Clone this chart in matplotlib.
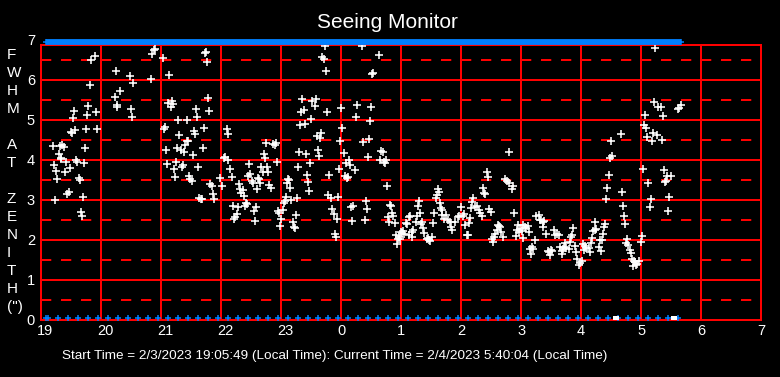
import matplotlib
matplotlib.use('Agg')
import matplotlib.pyplot as plt
from matplotlib.transforms import blended_transform_factory, offset_copy

plt.rcParams['font.family'] = ['Liberation Sans', 'DejaVu Sans']
plt.rcParams['lines.scale_dashes'] = False

# ---------------- data ----------------
title = "Seeing Monitor"
start_label = "2/3/2023 19:05:49"
current_label = "2/4/2023 5:40:04"
start_time = "19:05:49"
current_time = "5:40:04"
ylabel_letters = ["F", "W", "H", "M", "", "A", "T", "", "Z", "E", "N", "I", "T", "H", "(\")"]
x_tick_minutes = [0, 60, 120, 180, 240, 300, 360, 420, 480, 540, 600, 660, 720]
x_tick_labels = ["19", "20", "21", "22", "23", "0", "1", "2", "3", "4", "5", "6", "7"]
y_tick_values = [0, 1, 2, 3, 4, 5, 6, 7]

# minutes after 19:00 local time, FWHM at zenith (arcsec)
minutes = [
    113, 114, 111, 122, 54, 50, 75, 89, 110, 128, 92, 49, 79, 74, 76.5, 76, 90, 91, 47, 33,
    55, 46, 32, 30, 31, 34, 45, 56, 12, 19, 21.5, 23, 44, 18, 20.5, 20, 25, 35, 36, 43,
    13, 29, 15, 24, 38, 39, 16, 28, 26, 42, 14, 40, 41,
    164, 165, 166, 127, 131, 132, 130, 167, 155, 168, 156, 137, 146, 124, 123, 153, 154, 163, 138, 146,
    147, 144, 136, 140, 143, 125, 162, 152, 126, 135, 142, 141, 133, 157, 134, 148, 149, 151, 169, 158,
    160, 161,
    284, 321, 281, 283, 285, 331, 332, 261, 271, 275, 274, 263, 260, 286, 300, 316, 330, 315, 270, 259,
    264, 329, 301, 186, 187, 280, 276, 279, 299, 322, 328, 225, 232, 234, 235, 258, 265, 277, 278, 303,
    327, 223, 224, 184, 183, 187, 208, 236, 269, 257, 298, 305, 308, 309, 314, 189, 220, 226, 222, 227,
    179, 191, 207, 209, 217, 218, 211, 212, 219, 247, 248, 246, 266, 288, 304, 306, 307, 267, 181, 171,
    198, 199, 202, 200, 203, 216, 228, 230, 249, 172, 173, 245, 244, 243, 250, 256, 268, 287, 290, 297,
    325, 326, 310, 312, 192, 197, 204, 205, 206, 215, 213, 291, 293, 296, 311, 324, 255, 237, 238, 242,
    196, 194, 193, 214, 240, 252, 239, 253, 254, 294, 295,
    338, 340, 342, 339, 343, 345, 344, 468, 346, 446, 447, 464, 466, 468, 472, 471, 442, 443, 444, 397,
    398, 396, 395, 378, 377, 399, 400, 401, 432, 431, 420, 349, 350, 351, 352, 347, 354, 348, 368, 369,
    379, 376, 365, 366, 375, 381, 380, 392, 393, 401, 405, 403, 407, 409, 414, 410, 411, 417, 418, 423,
    422, 429, 428, 424, 430, 434, 436, 438, 439, 441, 448, 450, 473, 382, 383, 372, 371, 368, 371, 362,
    361, 360, 363, 358, 355, 357, 356, 359, 387, 388, 389, 391, 386, 426, 427, 457, 458, 459, 456, 460,
    454, 453, 462, 451, 452, 475, 477, 476, 478, 479, 481, 482, 484, 485, 488, 487, 482, 494, 491, 492,
    489, 490, 495, 498, 499,
    614, 613, 617, 620, 622, 604, 638, 637, 640, 603, 605, 606, 612, 616, 621, 611, 580, 570, 571, 569,
    602, 623, 626, 630, 607, 624, 625, 568, 566, 581, 565, 610, 628, 609, 627, 582, 583, 584, 554, 563,
    564, 562, 552, 554, 555, 551, 550, 559, 561, 558, 560, 532, 531, 530, 529, 534, 535, 513, 514, 516,
    518, 505, 524, 523, 522, 525, 528, 519, 521, 521, 510, 511, 508, 509, 507, 542, 544, 545, 543, 548,
    549, 536, 541, 539, 538, 586, 585, 587, 589, 590, 601, 600, 591, 593, 592, 594, 596, 598, 595, 500,
    502, 503, 502,
]
fwhm = [
    6.75, 6.77, 6.64, 6.54, 6.60, 6.49, 6.22, 6.10, 6.03, 6.13, 5.92, 5.87, 5.72, 5.57, 5.37, 5.32, 5.27, 5.07, 5.34, 5.22,
    5.20, 5.12, 5.04, 4.69, 4.67, 4.74, 4.77, 4.77, 4.34, 4.35, 4.38, 4.32, 4.29, 4.15, 4.05, 4.03, 3.94, 4.00, 3.94, 3.92,
    3.87, 3.79, 3.72, 3.69, 3.55, 3.50, 3.52, 3.19, 3.14, 3.07, 2.99, 2.69, 2.59,
    6.68, 6.70, 6.44, 5.43, 5.47, 5.39, 5.32, 5.54, 5.27, 5.22, 5.07, 4.99, 4.99, 4.82, 4.77, 4.73, 4.64, 4.79, 4.62, 4.48,
    4.47, 4.37, 4.29, 4.24, 4.19, 4.24, 4.29, 4.12, 3.89, 3.94, 3.87, 3.82, 3.77, 3.82, 3.57, 3.59, 3.52, 3.47, 3.39, 3.04,
    3.02, 3.02,
    6.86, 6.84, 6.58, 6.52, 6.22, 6.16, 6.17, 5.52, 5.47, 5.52, 5.34, 5.24, 5.19, 5.19, 5.29, 5.37, 5.32, 5.07, 5.02, 4.87,
    4.89, 4.97, 4.79, 4.77, 4.64, 4.67, 4.59, 4.54, 4.47, 4.44, 4.52, 4.42, 4.39, 4.37, 4.42, 4.19, 4.14, 4.24, 4.09, 4.17,
    4.07, 4.14, 4.04, 4.07, 4.04, 3.99, 3.89, 3.94, 3.92, 3.82, 3.77, 3.92, 3.99, 3.87, 3.74, 3.77, 3.82, 3.82, 3.69, 3.69,
    3.54, 3.57, 3.59, 3.64, 3.54, 3.52, 3.47, 3.42, 3.42, 3.52, 3.49, 3.42, 3.62, 3.62, 3.59, 3.54, 3.57, 3.44, 3.34, 3.34,
    3.39, 3.27, 3.24, 3.17, 3.09, 3.27, 3.37, 3.29, 3.29, 3.14, 3.02, 3.07, 2.97, 2.92, 2.99, 3.04, 3.22, 3.12, 3.04, 3.07,
    2.97, 2.77, 2.82, 2.84, 2.84, 2.82, 2.84, 2.92, 2.89, 2.82, 2.72, 2.77, 2.64, 2.52, 2.47, 2.49, 2.62, 2.72, 2.67, 2.74,
    2.64, 2.57, 2.52, 2.47, 2.52, 2.44, 2.34, 2.32, 2.29, 2.14, 2.07,
    6.62, 4.22, 4.19, 3.99, 3.94, 3.99, 3.92, 4.19, 3.34, 3.69, 3.57, 3.52, 3.47, 3.42, 3.34, 3.27, 3.29, 3.17, 3.14, 3.27,
    3.19, 3.12, 3.04, 2.97, 2.84, 2.92, 2.79, 2.74, 3.04, 2.94, 2.82, 2.87, 2.84, 2.67, 2.59, 2.57, 2.42, 2.44, 2.57, 2.59,
    2.67, 2.59, 2.42, 2.39, 2.44, 2.44, 2.39, 2.42, 2.67, 2.62, 2.62, 2.52, 2.49, 2.44, 2.44, 2.32, 2.24, 2.57, 2.59, 2.64,
    2.59, 2.54, 2.42, 2.37, 2.79, 2.82, 2.84, 2.74, 2.67, 2.59, 2.77, 2.69, 2.67, 2.29, 2.17, 2.24, 2.19, 2.12, 2.07, 2.22,
    2.17, 2.19, 2.14, 2.07, 2.12, 2.02, 1.89, 2.02, 2.04, 1.99, 1.97, 2.07, 2.02, 2.12, 2.12, 2.37, 2.34, 2.32, 2.24, 2.19,
    2.14, 2.07, 2.07, 2.02, 1.94, 2.09, 2.37, 2.24, 2.19, 2.27, 2.22, 2.37, 2.32, 2.29, 2.19, 2.34, 2.04, 1.99, 1.82, 1.77,
    1.77, 1.64, 2.59, 2.62, 2.49,
    6.79, 5.44, 5.32, 5.32, 5.09, 5.12, 5.29, 5.27, 5.37, 4.87, 4.79, 4.57, 4.67, 4.62, 4.49, 4.47, 4.64, 4.47, 4.09, 4.04,
    3.77, 3.74, 3.59, 3.59, 3.42, 3.44, 3.47, 3.62, 3.29, 3.19, 3.02, 3.02, 3.07, 2.82, 2.72, 2.84, 2.59, 2.39, 2.44, 2.32,
    2.39, 2.14, 2.22, 2.24, 2.27, 2.04, 1.92, 1.99, 1.99, 1.82, 1.72, 2.29, 2.12, 2.07, 1.94, 1.84, 1.69, 2.24, 2.12, 2.14,
    2.12, 2.14, 1.92, 1.82, 1.77, 1.79, 1.77, 1.82, 1.72, 1.64, 1.74, 1.72, 1.69, 1.62, 1.72, 1.89, 1.84, 1.79, 1.74, 1.79,
    1.69, 1.52, 1.47, 1.42, 1.37, 2.02, 1.92, 1.87, 1.74, 1.67, 2.09, 1.94, 1.52, 1.47, 1.34, 1.44, 1.39, 1.47, 1.37, 2.49,
    2.44, 2.47, 2.32,
]
# blue marks along the bottom (minutes after 19:00)
bottom_minutes = [5, 7, 17, 27, 37, 47, 57, 67, 77, 87, 97, 107, 117, 127, 137, 147, 157, 167, 177, 187,
                  197, 207, 217, 227, 237, 247, 257, 267, 277, 287, 297, 307, 317, 327, 337, 347, 357, 367,
                  377, 387, 397, 407, 417, 427, 437, 447, 457, 467, 477, 487, 497, 507, 517, 527, 537, 547,
                  557, 567, 577, 587, 597, 607, 617, 627, 637]
# white marks at zero
zero_minutes = [574, 576, 632, 634]


def to_minutes(hms):
    h, m, s = [int(v) for v in hms.split(":")]
    if h < 12:
        h += 24
    return (h - 19) * 60 + m + s / 60.0


start_min = to_minutes(start_time)
cur_min = to_minutes(current_time)

RED = '#ff0000'
BLUE = '#0080ff'
LW = 1.44

fig = plt.figure(figsize=(7.8, 3.77), dpi=100, facecolor='black')
ax = fig.add_axes([40.5 / 780, 57 / 377, 720 / 780, 275 / 377])
ax.set_facecolor('black')
ax.set_xlim(0, 720)
ax.set_ylim(0, 6.875)
ax.set_xticks([])
ax.set_yticks([])
for s in ax.spines.values():
    s.set_color(RED)
    s.set_linewidth(LW)

for v in range(1, 7):
    ax.axhline(v, color=RED, lw=LW, zorder=1)
for v in [0.5, 1.5, 2.5, 3.5, 4.5, 5.5, 6.5]:
    ax.axhline(v, color=RED, lw=LW, linestyle=(0, (7.4, 7.0)), zorder=1)
for xm in x_tick_minutes[1:-1]:
    ax.axvline(xm, color=RED, lw=LW, zorder=1)

ax.plot(minutes, fwhm, ls='none', marker='+', color='white', ms=5.5, mew=1.15, zorder=3)

# top band
ax.plot([start_min, cur_min], [6.94, 6.94], color=BLUE, lw=4.2, solid_capstyle='butt',
        clip_on=False, zorder=4)
ax.plot([start_min, cur_min], [6.94, 6.94], ls='none', marker='+', color=BLUE, ms=4.5, mew=1.1,
        clip_on=False, zorder=4)
# bottom marks
ax.plot(bottom_minutes, [0.06] * len(bottom_minutes), ls='none', marker='+', color=BLUE,
        ms=4.5, mew=1.1, clip_on=False, zorder=4)
ax.plot(zero_minutes, [0.05] * len(zero_minutes), ls='none', marker='s', color='white',
        ms=3.0, mew=0, clip_on=False, zorder=5)

# tick labels
ty = blended_transform_factory(ax.transAxes, ax.transData)
for v in y_tick_values:
    ax.text(0, v, str(v), transform=offset_copy(ty, fig, x=-5.5, y=-4.7, units='dots'),
            ha='right', va='baseline', color='white', fontsize=10.5, clip_on=False)
tx = blended_transform_factory(ax.transData, ax.transAxes)
for xm, lab in zip(x_tick_minutes, x_tick_labels):
    ax.text(xm, 0, lab, transform=offset_copy(tx, fig, x=-3.5, y=-15, units='dots'),
            ha='left', va='baseline', color='white', fontsize=10.5, clip_on=False)

# vertical stacked axis title
for i, ch in enumerate(ylabel_letters):
    if not ch:
        continue
    cy = 53.3 + 18.05 * i + 5.5
    fig.text(7 / 780, 1 - cy / 377, ch, ha='left', va='baseline', color='white', fontsize=11)

fig.text(387.5 / 780, 1 - 28.3 / 377, title, ha='center', va='baseline', color='white', fontsize=15)
fig.text(62 / 780, 1 - 359 / 377,
         "Start Time = " + start_label + " (Local Time): Current Time = " + current_label + " (Local Time)",
         ha='left', va='baseline', color='white', fontsize=9.7)

fig.savefig('out.png', dpi=100, facecolor='black')
